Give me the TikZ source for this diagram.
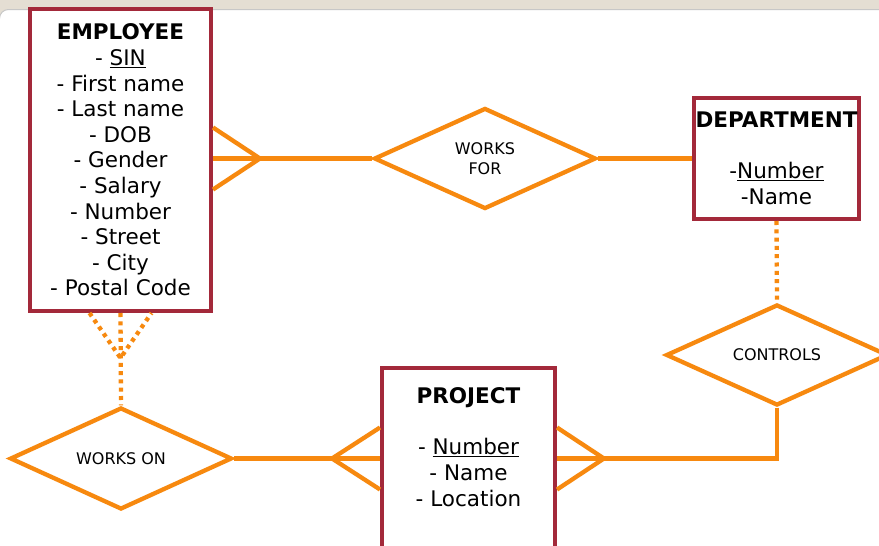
\documentclass[tikz,border=0pt]{standalone}
\usepackage{fontspec}
\setmainfont{DejaVu Sans}
\usetikzlibrary{shapes.geometric, positioning}
\definecolor{erred}{RGB}{163,41,58}
\definecolor{erorange}{RGB}{247,137,15}
\definecolor{topband}{RGB}{228,222,211}

\begin{document}
\begin{tikzpicture}[
  x=1pt, y=-1pt,
  entity/.style={draw=erred, line width=4pt, fill=white, rectangle, align=center,
                 inner sep=0pt, font=\fontsize{21.5}{25.6}\selectfont},
  entitytext/.style={align=center, inner sep=0pt, font=\fontsize{21.5}{25.6}\selectfont},
  relship/.style={draw=erorange, line width=4.3pt, fill=white, diamond, inner sep=0pt,
                  minimum width=222pt, minimum height=101pt, align=center,
                  font=\fontsize{16}{20}\selectfont},
  conn/.style={draw=erorange, line width=4.3pt},
  conndot/.style={conn, dash pattern=on 4pt off 4.3pt}
]
  % window frame
  \useasboundingbox (0,0) rectangle (879,546);
  \clip (0,0) rectangle (879,546);
  \fill[topband] (0,0) rectangle (879,546);
  \draw[black!22, fill=white, line width=1pt, rounded corners=9pt]
    (-0.5,600) -- (-0.5,9.5) -- (900,9.5) -- (900,600);

  % entities
  \node[entity, minimum width=181pt, minimum height=302pt] (employee) at (120.5,160)
    {\textbf{EMPLOYEE}\\- \underline{SIN}\\- First name\\- Last name\\- DOB\\- Gender\\
     - Salary\\- Number\\- Street\\- City\\- Postal Code};
  \node[entity, minimum width=165pt, minimum height=121pt] (department) at (776.5,158.5)
    {\textbf{DEPARTMENT}\\[25.6pt]-\underline{Number}\\-Name};
  \node[entity, anchor=north, minimum width=173pt, minimum height=230pt] (project) at (468.5,366) {};
  \node[entitytext] (projecttext) at ([yshift=-81pt]project.north)
    {\textbf{PROJECT}\\[25.6pt]- \underline{Number}\\- Name\\- Location};

  % relationships
  \node[relship] (worksfor) at (485,158.5) {WORKS\\FOR};
  \node[relship] (controls) at (777,355) {CONTROLS};
  \node[relship] (workson) at (121,458.5) {WORKS ON};

  % employee -- works for
  \coordinate (empR) at (employee.east |- worksfor.west);
  \coordinate (empfoot) at ([xshift=47pt]empR);
  \draw[conn] (empR) -- (worksfor.west);
  \draw[conn] ([yshift=31pt]empR) -- (empfoot) -- ([yshift=-31pt]empR);
  \draw[conn] (worksfor.east) -- (department.west |- worksfor.east);

  % department -- controls -- project
  \draw[conndot] (department.south) -- (controls.north);
  \coordinate (projR) at (project.east |- workson.east);
  \coordinate (projRfoot) at ([xshift=47pt]projR);
  \draw[conn] (controls.south) |- (projR);
  \draw[conn] ([yshift=31pt]projR) -- (projRfoot) -- ([yshift=-31pt]projR);

  % employee -- works on -- project
  \coordinate (empjoin) at ([yshift=-45pt]employee.south);
  \draw[conndot] ([xshift=-31pt]employee.south) -- (empjoin) -- ([xshift=31pt]employee.south);
  \draw[conndot] (employee.south) -- (workson.north);
  \coordinate (projL) at (project.west |- workson.east);
  \draw[conn] (workson.east) -- (projL);
  \draw[conn] ([yshift=31pt]projL) -- ([xshift=-48pt]projL) -- ([yshift=-31pt]projL);
\end{tikzpicture}
\end{document}
